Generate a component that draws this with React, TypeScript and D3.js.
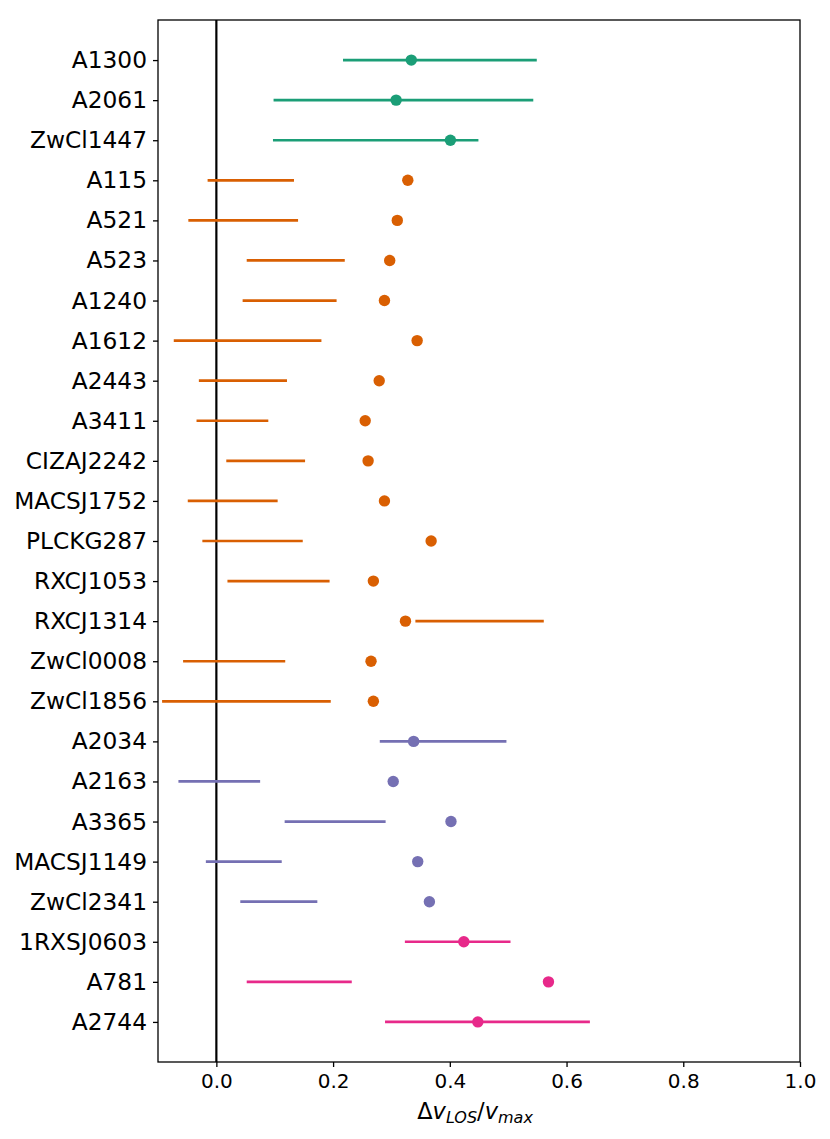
import * as d3 from "d3";
import { useEffect, useRef } from "react";

// cluster names, top to bottom
const clusters = [
    "A1300", "A2061", "ZwCl1447",
    "A115", "A521", "A523", "A1240", "A1612", "A2443", "A3411", "CIZAJ2242",
    "MACSJ1752", "PLCKG287", "RXCJ1053", "RXCJ1314", "ZwCl0008", "ZwCl1856",
    "A2034", "A2163", "A3365", "MACSJ1149", "ZwCl2341",
    "1RXSJ0603", "A781", "A2744",
];

// which group each cluster belongs to (colour index)
const groups = [
    0, 0, 0,
    1, 1, 1, 1, 1, 1, 1, 1, 1, 1, 1, 1, 1, 1,
    2, 2, 2, 2, 2,
    3, 3, 3,
];

// dot position
const pointValues = [
    0.334, 0.308, 0.401,
    0.328, 0.310, 0.297, 0.288, 0.344, 0.279, 0.255, 0.260,
    0.288, 0.368, 0.269, 0.324, 0.265, 0.269,
    0.338, 0.303, 0.402, 0.345, 0.365,
    0.424, 0.569, 0.448,
];

// interval low / high
const rangeLow = [
    0.217, 0.098, 0.097,
    -0.015, -0.048, 0.052, 0.045, -0.073, -0.030, -0.034, 0.017,
    -0.049, -0.024, 0.019, 0.341, -0.057, -0.093,
    0.280, -0.065, 0.117, -0.018, 0.041,
    0.323, 0.052, 0.289,
];
const rangeHigh = [
    0.549, 0.543, 0.449,
    0.133, 0.140, 0.220, 0.206, 0.180, 0.121, 0.089, 0.152,
    0.105, 0.148, 0.194, 0.561, 0.118, 0.196,
    0.497, 0.075, 0.290, 0.112, 0.173,
    0.504, 0.232, 0.640,
];

const xTicks = [0.0, 0.2, 0.4, 0.6, 0.8, 1.0];

const palette = ["#1b9e77", "#d95f02", "#7570b3", "#e7298a"];

const WIDTH = 830;
const HEIGHT = 1139;

function drawChart(svgElement: SVGSVGElement) {
    const svg = d3.select(svgElement);
    svg.selectAll("*").remove();

    const margin = { top: 20, right: 30, bottom: 77, left: 158 };
    const width = WIDTH - margin.left - margin.right;
    const height = HEIGHT - margin.top - margin.bottom;

    const chart = svg
        .append("g")
        .attr("transform", `translate(${margin.left},${margin.top})`);

    const x = d3.scaleLinear().domain([-0.1, 1.0]).range([0, width]);
    const y = d3
        .scaleLinear()
        .domain([-1, clusters.length])
        .range([0, height]);

    const rows = clusters.map((name, i) => ({
        name,
        i,
        color: palette[groups[i]],
        value: pointValues[i],
        lo: rangeLow[i],
        hi: rangeHigh[i],
    }));

    // zero line
    chart
        .append("line")
        .attr("x1", x(0))
        .attr("x2", x(0))
        .attr("y1", 0)
        .attr("y2", height)
        .attr("stroke", "#000")
        .attr("stroke-width", 2.2);

    // intervals
    chart
        .selectAll(".range")
        .data(rows)
        .join("line")
        .attr("x1", (d) => x(d.lo))
        .attr("x2", (d) => x(d.hi))
        .attr("y1", (d) => y(d.i))
        .attr("y2", (d) => y(d.i))
        .attr("stroke", (d) => d.color)
        .attr("stroke-width", 2.7);

    // dots
    chart
        .selectAll(".dot")
        .data(rows)
        .join("circle")
        .attr("cx", (d) => x(d.value))
        .attr("cy", (d) => y(d.i))
        .attr("r", 5.7)
        .attr("fill", (d) => d.color);

    // y axis
    const yAxis = chart
        .append("g")
        .call(
            d3
                .axisLeft(y)
                .tickValues(d3.range(clusters.length))
                .tickFormat((d) => clusters[d as number])
                .tickSize(5)
                .tickPadding(6)
        );
    yAxis.select(".domain").remove();
    yAxis.selectAll("line").attr("stroke", "#000").attr("stroke-width", 1.3);
    yAxis
        .selectAll("text")
        .style("font-family", "DejaVu Sans")
        .style("font-size", "23.3px")
        .style("fill", "#000");

    // x axis
    const xAxis = chart
        .append("g")
        .attr("transform", `translate(0,${height})`)
        .call(
            d3
                .axisBottom(x)
                .tickValues(xTicks)
                .tickFormat(d3.format(".1f"))
                .tickSize(5)
                .tickPadding(7)
        );
    xAxis.select(".domain").remove();
    xAxis.selectAll("line").attr("stroke", "#000").attr("stroke-width", 1.3);
    xAxis
        .selectAll("text")
        .style("font-family", "DejaVu Sans")
        .style("font-size", "20px")
        .style("fill", "#000");

    // frame
    chart
        .append("rect")
        .attr("x", 0)
        .attr("y", 0)
        .attr("width", width)
        .attr("height", height)
        .attr("fill", "none")
        .attr("stroke", "#000")
        .attr("stroke-width", 1.3);

    // x label: Δv_LOS / v_max
    const label = chart
        .append("text")
        .attr("x", width / 2 - 4)
        .attr("y", height + 57)
        .attr("text-anchor", "middle")
        .style("font-family", "DejaVu Sans")
        .style("font-size", "22.5px")
        .style("fill", "#000");
    label.append("tspan").text("Δ");
    label.append("tspan").style("font-style", "italic").text("v");
    label
        .append("tspan")
        .style("font-style", "italic")
        .style("font-size", "16px")
        .attr("dy", 4)
        .text("LOS");
    label.append("tspan").attr("dy", -4).text("/");
    label.append("tspan").style("font-style", "italic").text("v");
    label
        .append("tspan")
        .style("font-style", "italic")
        .style("font-size", "16px")
        .attr("dy", 4)
        .text("max");
}

export default function App() {
    const chartRef = useRef<SVGSVGElement | null>(null);

    useEffect(() => {
        if (chartRef.current) drawChart(chartRef.current);
    }, []);

    return (
        <svg
            ref={chartRef}
            width={WIDTH}
            height={HEIGHT}
            style={{ position: "absolute", top: 0, left: 0, background: "#fff" }}
        ></svg>
    );
}
